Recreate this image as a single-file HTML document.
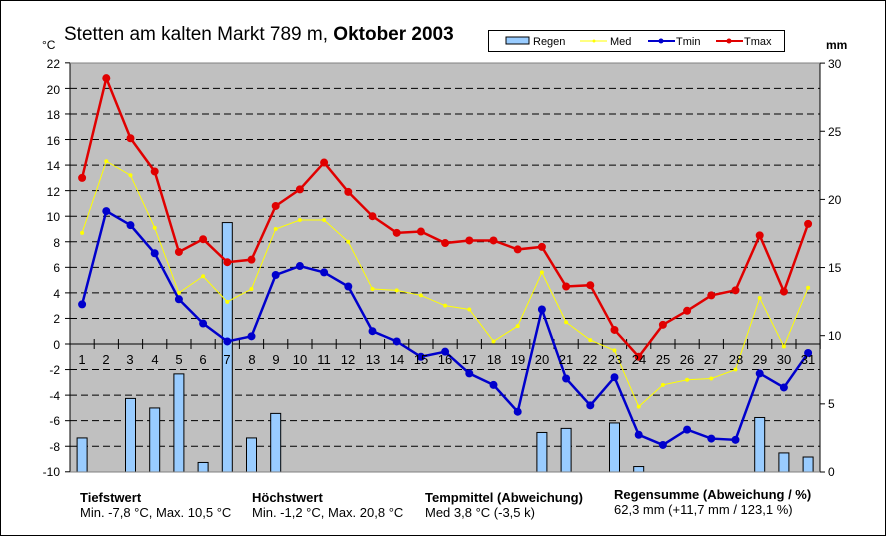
<!DOCTYPE html>
<html><head><meta charset="utf-8"><style>
html,body{margin:0;padding:0;background:#fff}
svg{display:block;font-family:"Liberation Sans",Arial,sans-serif}
</style></head><body>
<svg id="s" width="886" height="536" viewBox="0 0 886 536" xmlns="http://www.w3.org/2000/svg">
<rect x="0.5" y="0.5" width="885" height="535" fill="#fff" stroke="#000"/>
<rect x="70" y="63" width="750" height="409" fill="#c0c0c0"/>
<g id="grid"></g>
<g id="bars"></g>
<g id="lines"></g>
<line x1="70" y1="63" x2="70" y2="472" stroke="#000"/>
<line x1="820" y1="63" x2="820" y2="472" stroke="#000"/>
<line x1="70" y1="63" x2="820" y2="63" stroke="#808080"/>
<line x1="70" y1="472" x2="820" y2="472" stroke="#808080"/>
<text x="64" y="40" font-size="19">Stetten am kalten Markt  789 m, <tspan font-weight="bold">Oktober 2003</tspan></text>
<text x="42" y="49" font-size="12">°C</text>
<text x="826" y="49" font-size="12" font-weight="bold">mm</text>
<g font-size="12" text-anchor="end">
<text x="60" y="68">22</text><text x="60" y="94">20</text><text x="60" y="119">18</text><text x="60" y="145">16</text><text x="60" y="170">14</text><text x="60" y="196">12</text><text x="60" y="221">10</text><text x="60" y="247">8</text><text x="60" y="272">6</text><text x="60" y="298">4</text><text x="60" y="323">2</text><text x="60" y="349">0</text><text x="60" y="374">-2</text><text x="60" y="400">-4</text><text x="60" y="425">-6</text><text x="60" y="451">-8</text><text x="60" y="476">-10</text>
</g>
<g font-size="12">
<text x="828" y="68">30</text><text x="828" y="136">25</text><text x="828" y="204">20</text><text x="828" y="272">15</text><text x="828" y="340">10</text><text x="828" y="408">5</text><text x="828" y="476">0</text>
</g>
<g font-size="13" text-anchor="middle">
<text x="82" y="364">1</text><text x="106" y="364">2</text><text x="130" y="364">3</text><text x="155" y="364">4</text><text x="179" y="364">5</text><text x="203" y="364">6</text><text x="227" y="364">7</text><text x="252" y="364">8</text><text x="276" y="364">9</text><text x="300" y="364">10</text><text x="324" y="364">11</text><text x="348" y="364">12</text><text x="373" y="364">13</text><text x="397" y="364">14</text><text x="421" y="364">15</text><text x="445" y="364">16</text><text x="469" y="364">17</text><text x="494" y="364">18</text><text x="518" y="364">19</text><text x="542" y="364">20</text><text x="566" y="364">21</text><text x="590" y="364">22</text><text x="615" y="364">23</text><text x="639" y="364">24</text><text x="663" y="364">25</text><text x="687" y="364">26</text><text x="711" y="364">27</text><text x="736" y="364">28</text><text x="760" y="364">29</text><text x="784" y="364">30</text><text x="808" y="364">31</text>
</g>
<rect x="488.5" y="30.5" width="296" height="21" fill="#fff" stroke="#000"/>
<rect x="506" y="37" width="23" height="7" fill="#99ccff" stroke="#000"/>
<text x="533" y="45" font-size="11">Regen</text>
<line x1="580" y1="41" x2="607" y2="41" stroke="#ffff00"/><circle cx="594" cy="41" r="1.5" fill="#ffff00"/>
<text x="610" y="45" font-size="11">Med</text>
<line x1="648" y1="41" x2="675" y2="41" stroke="#0000cc" stroke-width="2"/><circle cx="661" cy="41" r="2.5" fill="#0000cc"/>
<text x="676" y="45" font-size="11">Tmin</text>
<line x1="716" y1="41" x2="743" y2="41" stroke="#e00000" stroke-width="2"/><circle cx="729" cy="41" r="2.5" fill="#e00000"/>
<text x="744" y="45" font-size="11">Tmax</text>
<g font-size="13">
<text x="80" y="502" font-weight="bold">Tiefstwert</text>
<text x="80" y="517">Min. -7,8 °C, Max. 10,5 °C</text>
<text x="252" y="502" font-weight="bold">Höchstwert</text>
<text x="252" y="517">Min. -1,2 °C, Max. 20,8 °C</text>
<text x="425" y="502" font-weight="bold">Tempmittel (Abweichung)</text>
<text x="425" y="517">Med 3,8 °C (-3,5 k)</text>
<text x="614" y="499" font-weight="bold">Regensumme (Abweichung / %)</text>
<text x="614" y="514">62,3 mm (+11,7 mm / 123,1 %)</text>
</g>
</svg>
<script>
var NS="http://www.w3.org/2000/svg";
function el(p,t,a){var e=document.createElementNS(NS,t);for(var k in a)e.setAttribute(k,a[k]);document.getElementById(p).appendChild(e);return e;}
function X(i){return 70+24.2*(i-0.5);}
function Y(v){return 344-v*12.78;}
for(var v=-8;v<=20;v+=2){if(v==0)continue;el("grid","line",{x1:70,x2:820,y1:Y(v),y2:Y(v),stroke:"#000","stroke-dasharray":"7,4"});}
el("grid","line",{x1:70,x2:820,y1:344,y2:344,stroke:"#000"});
for(var i=0;i<=31;i++){var x=70+24.2*i;el("grid","line",{x1:x,x2:x,y1:339,y2:349,stroke:"#000"});}
for(var v=-10;v<=22;v+=2)el("grid","line",{x1:65,x2:70,y1:Y(v),y2:Y(v),stroke:"#000"});
for(var m=0;m<=30;m+=5)el("grid","line",{x1:820,x2:825,y1:472-m*13.63,y2:472-m*13.63,stroke:"#000"});
var rain={1:2.5,3:5.4,4:4.7,5:7.2,6:0.7,7:18.3,8:2.5,9:4.3,20:2.9,21:3.2,23:3.6,24:0.4,29:4.0,30:1.4,31:1.1};
for(var d in rain){var h=rain[d]*13.63;el("bars","rect",{x:X(+d)-5,y:472-h,width:10,height:h,fill:"#99ccff",stroke:"#000","stroke-width":1});}
var tmax=[13.0,20.8,16.1,13.5,7.2,8.2,6.4,6.6,10.8,12.1,14.2,11.9,10.0,8.7,8.8,7.9,8.1,8.1,7.4,7.6,4.5,4.6,1.1,-1.0,1.5,2.6,3.8,4.2,8.5,4.1,9.4];
var tmin=[3.1,10.4,9.3,7.1,3.5,1.6,0.2,0.6,5.4,6.1,5.6,4.5,1.0,0.2,-1.0,-0.6,-2.3,-3.2,-5.3,2.7,-2.7,-4.8,-2.6,-7.1,-7.9,-6.7,-7.4,-7.5,-2.3,-3.4,-0.7];
var med=[8.7,14.3,13.2,9.1,4.0,5.3,3.3,4.3,9.0,9.7,9.7,8.0,4.3,4.2,3.8,3.0,2.7,0.2,1.4,5.6,1.7,0.3,-0.5,-4.9,-3.2,-2.8,-2.7,-2.0,3.6,-0.2,4.4];
function series(a,c,w,r){var p=a.map(function(v,i){return X(i+1)+","+Y(v);}).join(" ");el("lines","polyline",{points:p,fill:"none",stroke:c,"stroke-width":w});a.forEach(function(v,i){el("lines","circle",{cx:X(i+1),cy:Y(v),r:r,fill:c});});}
series(med,"#ffff00",1,2);
series(tmin,"#0000cc",2.5,4);
series(tmax,"#e00000",2.5,4);
</script>
</body></html>
